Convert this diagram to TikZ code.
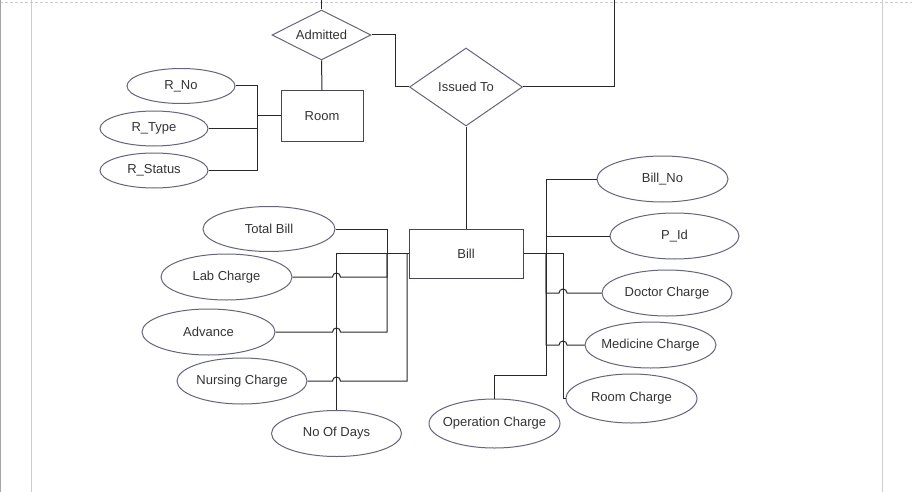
\documentclass[tikz,border=0pt]{standalone}
\usepackage{fontspec}
\setmainfont{Liberation Sans}
\usetikzlibrary{shapes.geometric}
\definecolor{shapeline}{RGB}{100,100,125}
\definecolor{wirecol}{RGB}{40,40,40}
\definecolor{txtcol}{RGB}{51,51,51}
\definecolor{pageline}{RGB}{205,205,205}
\tikzset{
    attr/.style = {ellipse, draw=shapeline, line width=1pt, inner sep=-18pt,
        minimum width=130pt, minimum height=46pt, text=txtcol,
        font=\fontsize{13}{15}\selectfont},
    entity/.style = {rectangle, draw=shapeline!70!black, line width=1pt, inner sep=0pt,
        text=txtcol, font=\fontsize{13}{15}\selectfont},
    rel/.style = {diamond, aspect=2, draw=shapeline, line width=1pt, inner sep=0pt,
        text=txtcol, font=\fontsize{13}{15}\selectfont},
    link/.style = {draw=wirecol, line width=1pt},
}

\begin{document}
\begin{tikzpicture}[x=1pt, y=-1pt]
    \useasboundingbox (0,0) rectangle (912,492);
    % page frame
    \draw[pageline, dash pattern=on 3pt off 2pt] (0,2) -- (912,2);
    \draw[pageline!80!black] (0.5,0) -- (0.5,492);
    \draw[pageline] (31.5,0) -- (31.5,492);
    \draw[pageline] (882.5,0) -- (882.5,492);

    % entities and relations
    \node[rel, minimum width=99pt, minimum height=50pt] (admitted) at (321.5,35) {Admitted};
    \node[rel, minimum width=113pt, minimum height=78pt] (issued) at (466,87) {Issued To};
    \node[entity, minimum width=82pt, minimum height=50pt] (room) at (322,116) {Room};
    \node[entity, minimum width=114pt, minimum height=49pt] (bill) at (466,253.5) {Bill};

    % room attributes
    \node[attr, minimum width=108pt, minimum height=35pt] (rno) at (181,86) {R\_No};
    \node[attr, minimum width=108pt, minimum height=35pt] (rtype) at (154,128.5) {R\_Type};
    \node[attr, minimum width=108pt, minimum height=35pt] (rstatus) at (154,170.5) {R\_Status};

    % bill attributes
    \node[attr, minimum width=132pt, minimum height=45pt] (totalbill) at (269,229) {Total Bill};
    \node[attr, minimum width=131pt] (labcharge) at (226.5,277) {Lab Charge};
    \node[attr, minimum width=133pt] (advance) at (208.5,332) {Advance};
    \node[attr] (nursing) at (242,381) {Nursing Charge};
    \node[attr] (nodays) at (336.5,433.5) {No Of Days};
    \node[attr, minimum width=131pt] (billno) at (662.5,179) {Bill\_No};
    \node[attr, minimum width=129pt] (pid) at (674.5,236) {P\_Id};
    \node[attr] (doctor) at (667,293) {Doctor Charge};
    \node[attr, minimum width=131pt] (medicine) at (650.5,345) {Medicine Charge};
    \node[attr, minimum width=131pt, minimum height=49pt] (roomcharge) at (631.5,398.5) {Room Charge};
    \node[attr, minimum width=131pt, minimum height=49pt] (operation) at (494.5,423.5) {Operation Charge};

    % junctions
    \coordinate (topA) at (321.5,0);
    \coordinate (topB) at (614.5,0);
    \coordinate (rj) at (257,116);
    \coordinate (lj) at (387,253.5);
    \coordinate (nj) at (407,253.5);
    \coordinate (bj) at (546,253.5);
    \coordinate (cj) at (563,253.5);

    % relation links
    \draw[link] (admitted.north) -- (topA);
    \draw[link] (admitted.east) -- ++(24,0) |- (issued.west);
    \draw[link] (issued.east) -| (topB);
    \draw[link] (admitted.south) -- (room.north);
    \draw[link] (issued.south) -- (bill.north);

    % room links
    \draw[link] (room.west) -- (rj);
    \draw[link] (rno.east) -| (rj);
    \draw[link] (rtype.east) -| (rj);
    \draw[link] (rstatus.east) -| (rj);

    % bill links, left
    \draw[link] (bill.west) -| (nodays.north);
    \draw[link] (totalbill.east) -| (lj);
    \draw[link] (labcharge.east) -- ([xshift=-4pt]labcharge.east -| nodays.north)
        arc[start angle=180, end angle=0, radius=4pt] -| (lj);
    \draw[link] (advance.east) -- ([xshift=-4pt]advance.east -| nodays.north)
        arc[start angle=180, end angle=0, radius=4pt] -| (lj);
    \draw[link] (nursing.east) -- ([xshift=-4pt]nursing.east -| nodays.north)
        arc[start angle=180, end angle=0, radius=4pt] -| (nj);

    % bill links, right
    \draw[link] (bill.east) -- (cj) |- (roomcharge.west);
    \draw[link] (billno.west) -| (bj);
    \draw[link] (pid.west) -| (bj);
    \draw[link] (doctor.west) -- ([xshift=4pt]doctor.west -| cj)
        arc[start angle=0, end angle=180, radius=4pt] -| (bj);
    \draw[link] (medicine.west) -- ([xshift=4pt]medicine.west -| cj)
        arc[start angle=0, end angle=180, radius=4pt] -| (bj);
    \draw[link] (operation.north) -- ++(0,-23) -| (bj);
\end{tikzpicture}
\end{document}
